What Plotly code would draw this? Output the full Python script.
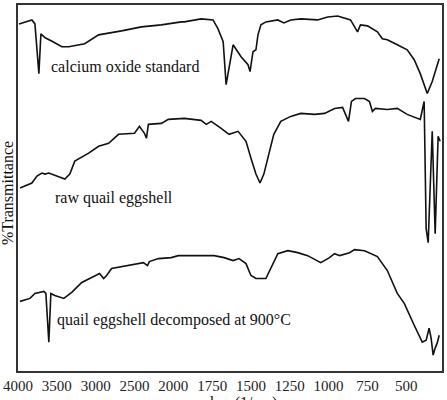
import plotly.graph_objects as go

# ---- data (wavenumber in 1/cm, transmittance in arbitrary offset units) ----
cao_wn = [3987, 3821, 3782, 3731, 3705, 3650, 3550, 3436, 3346, 3141, 2962, 2795, 2667,
          2410, 2154, 1949, 1929, 1821, 1744, 1712, 1679, 1660, 1615, 1564, 1519, 1506,
          1487, 1468, 1455, 1436, 1404, 1327, 1288, 1244, 1179, 1071, 1006, 942, 859,
          814, 795, 750, 686, 654, 622, 558, 494, 449, 410, 365, 333, 288]
cao_t = [349, 353, 349, 299, 339, 335, 331, 326, 326, 329, 338, 340, 342,
         346, 348, 351, 351, 354, 353, 344, 331, 288, 328, 316, 308, 301,
         321, 323, 338, 348, 351, 353, 350, 353, 354, 353, 356, 357, 353,
         341, 348, 347, 341, 334, 333, 328, 323, 313, 299, 279, 291, 314]

raw_wn = [3974, 3821, 3756, 3692, 3654, 3603, 3397, 3333, 3269, 3090, 2962, 2833, 2705,
          2500, 2436, 2372, 2346, 2321, 2154, 2064, 1929, 1821, 1788, 1756, 1692, 1641,
          1583, 1532, 1500, 1468, 1442, 1417, 1385, 1353, 1308, 1244, 1179, 1090, 1026,
          962, 910, 891, 872, 853, 827, 769, 737, 718, 699, 622, 558, 494, 430, 410,
          385, 372, 359, 333, 314, 295, 282]
raw_t = [184, 189, 196, 199, 198, 199, 193, 198, 211, 219, 226, 229, 238,
         239, 246, 239, 234, 248, 249, 253, 254, 252, 248, 251, 244, 238,
         241, 231, 214, 198, 189, 198, 218, 238, 251, 256, 259, 258, 259,
         264, 265, 258, 251, 271, 274, 274, 271, 261, 264, 263, 264, 258, 254, 253,
         271, 143, 129, 241, 138, 236, 231]

dec_wn = [3974, 3846, 3782, 3718, 3667, 3641, 3603, 3577, 3526, 3410, 3308, 3179, 3051,
          2949, 2897, 2859, 2795, 2577, 2385, 2333, 2308, 2192, 2026, 1968, 1821, 1737,
          1673, 1615, 1577, 1532, 1500, 1468, 1404, 1372, 1327, 1263, 1199, 1135, 1051,
          994, 962, 929, 865, 833, 769, 686, 622, 558, 513, 449, 397, 372, 353, 340,
          327, 314, 301, 288]
dec_t = [70, 73, 78, 79, 80, 78, 29, 78, 76, 73, 79, 89, 94,
         98, 93, 96, 103, 106, 109, 106, 110, 113, 114, 116, 116, 116,
         114, 111, 113, 108, 96, 93, 93, 104, 118, 121, 119, 116, 109,
         114, 118, 116, 119, 122, 121, 115, 101, 78, 68, 46, 29, 31, 43, 33,
         16, 23, 28, 36]

tick_wn = [4000, 3500, 3000, 2500, 2000, 1750, 1500, 1250, 1000, 750, 500]
tick_text = ["4000", "3500", "3000", "2500", "2000", "1750", "1500", "1250", "1000", "750", "500"]
x_limits = [4000, 270]

labels = ["calcium oxide standard", "raw quail eggshell", "quail eggshell decomposed at 900°C"]


def to_axis(w):
    # piecewise wavenumber scale: 500/div above 2000, 250/div below
    return (4000 - w) / 500 if w >= 2000 else 4 + (2000 - w) / 250


SERIF = "Liberation Serif, Times New Roman, serif"

fig = go.Figure()
for wn, t in [(cao_wn, cao_t), (raw_wn, raw_t), (dec_wn, dec_t)]:
    fig.add_trace(go.Scatter(
        x=[to_axis(w) for w in wn], y=t, mode="lines",
        line=dict(color="#111111", width=1.6), showlegend=False, hoverinfo="skip"))

fig.update_layout(
    width=447, height=400,
    margin=dict(l=17, r=5, t=3, b=29),
    paper_bgcolor="white", plot_bgcolor="white",
    font=dict(family=SERIF, color="#1a1a1a"),
    xaxis=dict(
        range=[to_axis(x_limits[0]), to_axis(x_limits[1])],
        tickvals=[to_axis(w) for w in tick_wn], ticktext=tick_text,
        tickfont=dict(size=15, family=SERIF, color="#222"),
        showgrid=False, zeroline=False, ticks="",
        showline=True, mirror=True, linecolor="#333", linewidth=1.5),
    yaxis=dict(
        range=[0, 368], showticklabels=False, showgrid=False, zeroline=False, ticks="",
        showline=True, mirror=True, linecolor="#333", linewidth=1.5),
)

ann_pos = [(0.073, 0.832), (0.082, 0.473), (0.087, 0.139)]
for txt, (ax, ay) in zip(labels, ann_pos):
    fig.add_annotation(text=txt, xref="paper", yref="paper", x=ax, y=ay,
                       xanchor="left", yanchor="middle", showarrow=False,
                       font=dict(size=16, family=SERIF, color="#111"))

fig.add_annotation(text="%Transmittance", xref="paper", yref="paper", x=0, y=0.486,
                   xshift=-11, xanchor="center", yanchor="middle", textangle=-90,
                   showarrow=False, font=dict(size=16, family=SERIF, color="#111"))
fig.add_annotation(text="wavenumber (1/cm)", xref="paper", yref="paper", x=0.459, y=0,
                   yshift=-32, xanchor="center", yanchor="middle",
                   showarrow=False, font=dict(size=16, family=SERIF, color="#111"))

fig.write_html("out.html")
